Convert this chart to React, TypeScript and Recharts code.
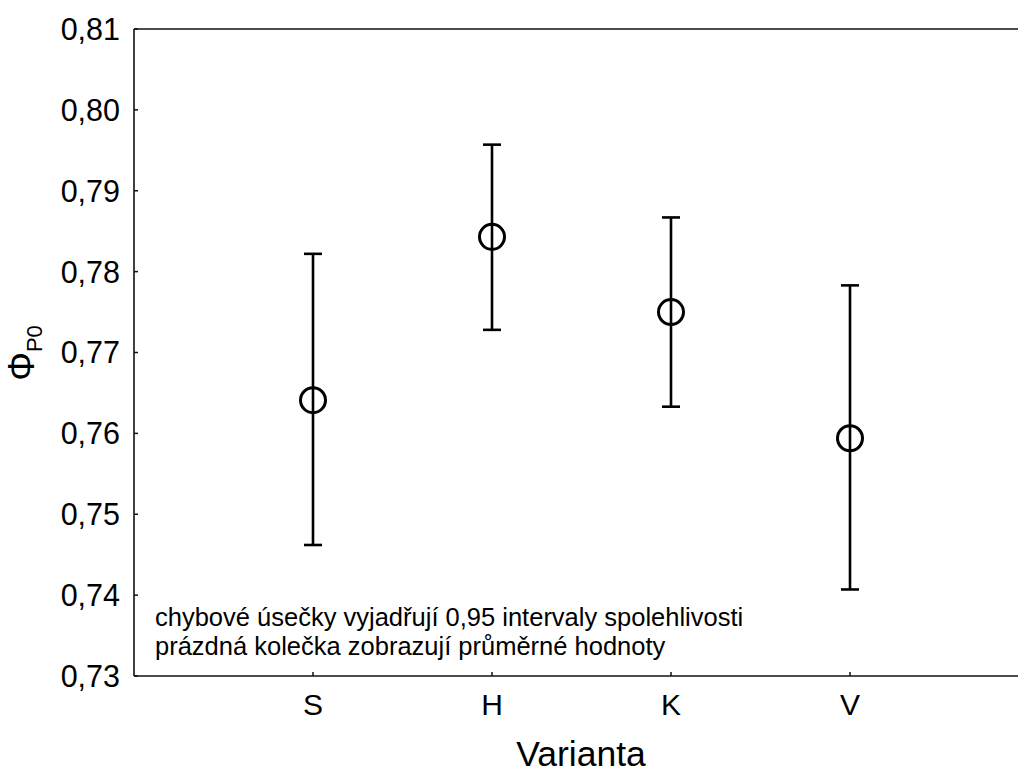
import React from 'react';
import { ScatterChart, Scatter, XAxis, YAxis, ErrorBar, Customized } from 'recharts';

const categories = ['S', 'H', 'K', 'V'];
const categoryPos = [1, 2, 3, 4];
const means = [0.7641, 0.7843, 0.7750, 0.7594];
const lower = [0.7462, 0.7728, 0.7633, 0.7407];
const upper = [0.7822, 0.7957, 0.7867, 0.7783];
const yTicks = [0.73, 0.74, 0.75, 0.76, 0.77, 0.78, 0.79, 0.8, 0.81];
const noteLines = [
  'chybové úsečky vyjadřují 0,95 intervaly spolehlivosti',
  'prázdná kolečka zobrazují průměrné hodnoty',
];
const xLabel = 'Varianta';

const data = categories.map((c, i) => ({
  name: c,
  x: categoryPos[i],
  y: means[i],
  err: [means[i] - lower[i], upper[i] - means[i]],
}));

const FONT = '"Liberation Sans", Arial, sans-serif';

const YTick = (props: any) => {
  const { x, y, payload } = props;
  return (
    <g>
      <line x1={x} y1={y} x2={x + 4} y2={y} stroke="#111" strokeWidth={1.5} />
      <text x={x - 14} y={y} dy="0.36em" textAnchor="end" fontSize={30.5} fontFamily={FONT} fill="#000">
        {payload.value.toFixed(2).replace('.', ',')}
      </text>
    </g>
  );
};

const XTick = (props: any) => {
  const { x, y, payload } = props;
  const idx = categoryPos.indexOf(payload.value);
  return (
    <g>
      <line x1={x} y1={y} x2={x} y2={y - 4} stroke="#111" strokeWidth={1.5} />
      <text x={x} y={y + 39} textAnchor="middle" fontSize={30} fontFamily={FONT} fill="#000">
        {idx >= 0 ? categories[idx] : ''}
      </text>
    </g>
  );
};

const TopTick = (props: any) => {
  const { x, y } = props;
  return <line x1={x} y1={y} x2={x} y2={y + 4} stroke="#111" strokeWidth={1.5} />;
};

const Circle = (props: any) => {
  const { cx, cy } = props;
  return <circle cx={cx} cy={cy} r={12.5} fill="none" stroke="#000" strokeWidth={3} />;
};

const Extras = () => (
  <g fontFamily={FONT} fill="#000">
    <text x={155} y={626} fontSize={25.5}>{noteLines[0]}</text>
    <text x={155} y={655} fontSize={25.5}>{noteLines[1]}</text>
    <text x={581} y={766} fontSize={35.5} textAnchor="middle">{xLabel}</text>
    <text transform="rotate(-90, 34, 353)" x={34} y={353} textAnchor="middle" fontSize={36}>
      Φ<tspan fontSize={22} dy={8}>P0</tspan>
    </text>
  </g>
);

export default function App() {
  return (
    <div style={{ position: 'absolute', left: 0, top: 0, width: 1018, height: 773, background: '#fff' }}>
      <ScatterChart width={1018} height={773} margin={{ top: 28, right: -11, bottom: 37, left: 0 }}>
        <XAxis
          type="number"
          dataKey="x"
          domain={[0, 5]}
          ticks={categoryPos}
          allowDataOverflow
          axisLine={{ stroke: '#111', strokeWidth: 1.6 }}
          tickLine={false}
          tickSize={0}
          tickMargin={0}
          height={60}
          tick={<XTick />}
          interval={0}
        />
        <XAxis
          xAxisId="top"
          orientation="top"
          type="number"
          dataKey="x"
          domain={[0, 5]}
          ticks={categoryPos}
          axisLine={{ stroke: '#111', strokeWidth: 1.6 }}
          tickLine={false}
          tickSize={0}
          tickMargin={0}
          height={1}
          tick={<TopTick />}
          interval={0}
        />
        <YAxis
          type="number"
          dataKey="y"
          domain={[0.73, 0.81]}
          ticks={yTicks}
          allowDataOverflow
          width={134}
          axisLine={{ stroke: '#111', strokeWidth: 1.6 }}
          tickLine={false}
          tickSize={0}
          tickMargin={0}
          tick={<YTick />}
          interval={0}
        />
        <Scatter data={data} shape={<Circle />} isAnimationActive={false}>
          <ErrorBar dataKey="err" direction="y" width={9} stroke="#000" strokeWidth={2.6} />
        </Scatter>
        <Customized component={Extras} />
      </ScatterChart>
    </div>
  );
}
